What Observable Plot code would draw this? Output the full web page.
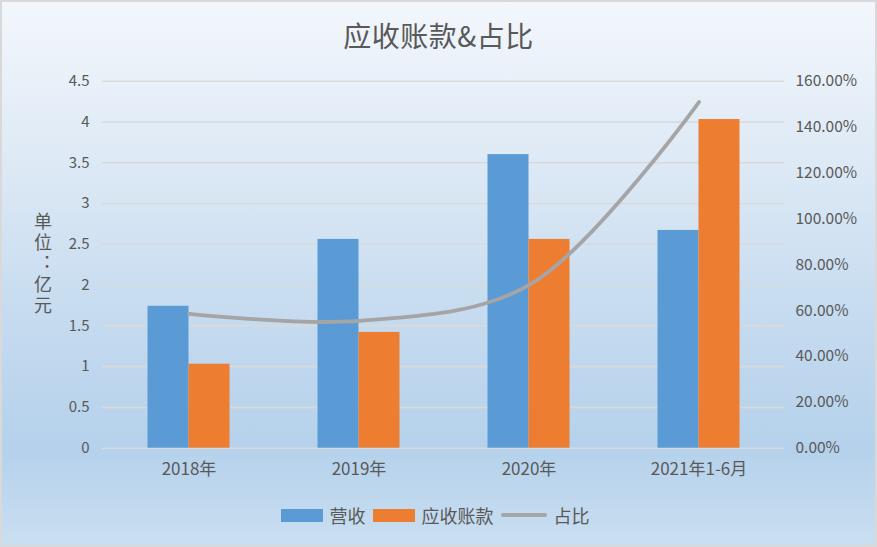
<!DOCTYPE html>
<html>
<head>
<meta charset="utf-8">
<script src="https://cdn.jsdelivr.net/npm/d3@7"></script>
<script src="https://cdn.jsdelivr.net/npm/@observablehq/plot@0.6"></script>
<style>
  html, body { margin: 0; padding: 0; }
  body { width: 877px; height: 547px; overflow: hidden; }
  #chart {
    position: relative; width: 877px; height: 547px; overflow: hidden;
    background: linear-gradient(to bottom, #f3f7fc 0%, #dde9f5 30%, #c4daef 60%, #b5d1eb 82%, #cadff1 100%);
    font-family: "Noto Sans CJK SC", "Noto Sans", sans-serif; color: #595959;
  }
  #frame { position: absolute; left: 0; top: 0; width: 877px; height: 547px; box-sizing: border-box; border: 2px solid #d9d9d9; pointer-events: none; }
  #title { position: absolute; left: 0; top: 16px; width: 877px; text-align: center; font-size: 28px; line-height: 38px; letter-spacing: 0.5px; }
  #ytitle { position: absolute; left: 32px; top: 212px; width: 21px; font-size: 18px; line-height: 21px;
    writing-mode: vertical-rl; text-orientation: upright; letter-spacing: 3px; font-feature-settings: "vert" 0, "vrt2" 0; }
  #plot { position: absolute; left: 0; top: 62px; }
  #legend { position: absolute; left: 0; top: 503px; width: 877px; display: flex; justify-content: center; align-items: center; font-size: 18px; line-height: 24px; }
  .sw { display: inline-block; width: 42px; height: 13px; margin-right: 7px; }
  .ln { display: inline-block; width: 46px; height: 4px; border-radius: 2px; background: #a5a5a5; margin-right: 7px; }
  .lab { margin-right: 7px; }
</style>
</head>
<body>
<div id="chart">
  <div id="title">应收账款&amp;占比</div>
  <div id="ytitle"></div>
  <div id="plot"></div>
  <div id="legend"></div>
  <div id="frame"></div>
</div>
<script>
const categories = ["2018年", "2019年", "2020年", "2021年1-6月"];
const revenue = [1.74, 2.56, 3.60, 2.67];          // 营收 (亿元)
const receivables = [1.03, 1.42, 2.56, 4.03];      // 应收账款 (亿元)
const ratio = [58.6, 55.5, 71.1, 150.9];           // 占比 (%)
const leftTicks = [0, 0.5, 1, 1.5, 2, 2.5, 3, 3.5, 4, 4.5];
const rightTicks = [0, 20, 40, 60, 80, 100, 120, 140, 160];
const seriesNames = ["营收", "应收账款", "占比"];
const seriesColors = ["#5b9bd5", "#ed7d31", "#a5a5a5"];
const yTitle = "单位：亿元";

const leftMax = 4.5, rightMax = 160;
const data = categories.map((c, i) => ({category: c, revenue: revenue[i], receivables: receivables[i], ratio: ratio[i]}));

const chart = Plot.plot({
  width: 877,
  height: 440,
  marginTop: 18.7,
  marginBottom: 54.3,
  marginLeft: 102,
  marginRight: 93,
  style: {background: "transparent", color: "#595959", fontFamily: "'Noto Sans CJK SC', 'Noto Sans', sans-serif", fontSize: "15px"},
  x: {type: "band", domain: categories, paddingInner: 0.76, paddingOuter: 0.38, label: null},
  y: {domain: [0, leftMax], label: null},
  marks: [
    Plot.ruleY(leftTicks, {stroke: "#d9d9d9", strokeWidth: 1.6}),
    Plot.axisY({ticks: leftTicks, tickSize: 0, tickPadding: 13, label: null, tickFormat: d => String(d)}),
    Plot.axisY({anchor: "right", ticks: rightTicks.map(p => p * leftMax / rightMax), tickSize: 0, tickPadding: 11, label: null,
      tickFormat: d => (d * rightMax / leftMax).toFixed(2) + "%", fontSize: 15.5}),
    Plot.axisX({tickSize: 0, tickPadding: 15, label: null, fontSize: 17}),
    Plot.barY(data, {x: "category", y: "revenue", fill: seriesColors[0], dx: -20.5}),
    Plot.barY(data, {x: "category", y: "receivables", fill: seriesColors[1], dx: 20.5}),
    Plot.line(data, {x: "category", y: d => d.ratio * leftMax / rightMax, stroke: seriesColors[2], strokeWidth: 3.8,
      curve: "catmull-rom", strokeLinecap: "round"})
  ]
});
document.getElementById("plot").appendChild(chart);

document.getElementById("ytitle").textContent = yTitle;

const legend = document.getElementById("legend");
seriesNames.forEach((n, i) => {
  const s = document.createElement("span");
  s.className = i < 2 ? "sw" : "ln";
  if (i < 2) s.style.background = seriesColors[i];
  legend.appendChild(s);
  const t = document.createElement("span");
  t.className = "lab";
  t.textContent = n;
  legend.appendChild(t);
});
</script>
</body>
</html>
